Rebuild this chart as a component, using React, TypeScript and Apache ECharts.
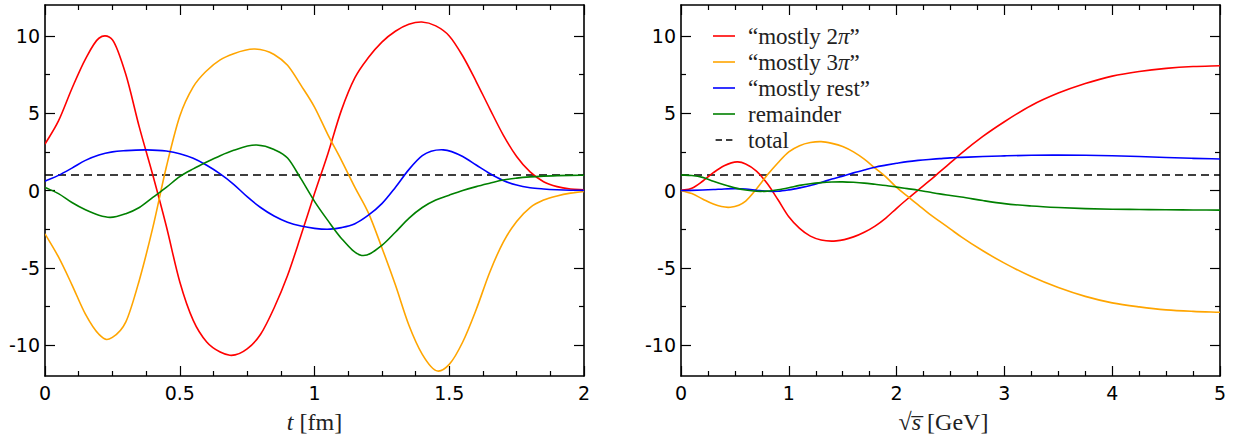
import React, { useEffect, useRef } from "react";
import * as echarts from "echarts";

// ---- Left panel: t [fm]
const leftMostly2piT = [
  0, 0.05, 0.1, 0.15, 0.2, 0.223, 0.25, 0.3, 0.35, 0.4, 0.45, 0.5, 0.55, 0.6, 0.65, 0.686, 0.75, 0.8, 0.85, 0.9, 0.95,
  1.0, 1.05, 1.1, 1.15, 1.2, 1.25, 1.3, 1.35, 1.398, 1.45, 1.5, 1.55, 1.6, 1.65, 1.7, 1.75, 1.8, 1.85, 1.9, 1.95, 2.0,
];
const leftMostly2pi = [
  3.0, 4.5, 6.6, 8.5, 9.85, 10.0, 9.75, 7.5, 4.1, 1.0, -2.3, -5.9, -8.4, -9.8, -10.45, -10.66, -10.25, -9.3, -7.6, -5.5, -2.9,
  -0.2, 2.4, 5.2, 7.3, 8.6, 9.6, 10.3, 10.75, 10.9, 10.65, 10.0, 8.7, 7.05, 5.3, 3.6, 2.2, 1.2, 0.57, 0.25, 0.1, 0.05,
];
const leftMostly3piT = [
  0, 0.05, 0.1, 0.15, 0.2, 0.229, 0.25, 0.3, 0.35, 0.4, 0.45, 0.5, 0.55, 0.6, 0.65, 0.7, 0.779, 0.85, 0.9, 0.95,
  1.0, 1.05, 1.1, 1.15, 1.2, 1.25, 1.3, 1.35, 1.4, 1.457, 1.5, 1.55, 1.6, 1.65, 1.7, 1.75, 1.8, 1.85, 1.9, 1.95, 2.0,
];
const leftMostly3pi = [
  -2.8, -4.3, -6.1, -8.0, -9.3, -9.64, -9.5, -8.5, -5.8, -2.4, 1.5, 4.8, 6.7, 7.75, 8.45, 8.85, 9.15, 8.8, 8.1, 6.8,
  5.4, 3.6, 1.95, 0.2, -1.45, -3.7, -6.1, -8.7, -10.6, -11.68, -11.25, -9.8, -7.7, -5.3, -3.35, -2.0, -1.1, -0.62, -0.35, -0.17, -0.06,
];
const leftMostlyRestT = [
  0, 0.05, 0.1, 0.15, 0.2, 0.25, 0.3, 0.377, 0.45, 0.5, 0.55, 0.6, 0.65, 0.7, 0.75, 0.8, 0.85, 0.9, 0.95,
  1.0, 1.058, 1.1, 1.15, 1.2, 1.25, 1.3, 1.35, 1.4, 1.478, 1.55, 1.6, 1.65, 1.7, 1.75, 1.8, 1.85, 1.9, 1.95, 2.0,
];
const leftMostlyRest = [
  0.6, 0.98, 1.45, 1.95, 2.3, 2.5, 2.58, 2.63, 2.55, 2.38, 2.08, 1.63, 1.07, 0.4, -0.4, -1.1, -1.65, -2.05, -2.3,
  -2.45, -2.5, -2.4, -2.15, -1.6, -0.85, 0.2, 1.35, 2.25, 2.63, 2.2, 1.65, 1.1, 0.65, 0.35, 0.18, 0.1, 0.05, 0.02, 0.01,
];
const leftRemainderT = [
  0, 0.05, 0.1, 0.15, 0.2, 0.241, 0.3, 0.35, 0.4, 0.45, 0.5, 0.55, 0.6, 0.65, 0.7, 0.785, 0.85, 0.9, 0.95,
  1.0, 1.05, 1.1, 1.175, 1.25, 1.3, 1.35, 1.4, 1.45, 1.5, 1.55, 1.6, 1.65, 1.7, 1.75, 1.8, 1.85, 1.9, 1.95, 2.0,
];
const leftRemainder = [
  0.2, -0.2, -0.78, -1.25, -1.6, -1.74, -1.5, -1.1, -0.45, 0.2, 0.9, 1.4, 1.84, 2.25, 2.6, 2.94, 2.65, 2.1, 0.75,
  -0.7, -1.95, -3.1, -4.2, -3.55, -2.7, -1.8, -1.1, -0.62, -0.3, 0.0, 0.25, 0.47, 0.68, 0.8, 0.88, 0.93, 0.96, 0.98, 0.99,
];
const leftTotalT = [0, 2];
const leftTotal = [1, 1];

// ---- Right panel: sqrt(s) [GeV]
const rightMostly2piS = [
  0, 0.1, 0.2, 0.3, 0.4, 0.526, 0.6, 0.7, 0.8, 0.9, 1.0, 1.1, 1.2, 1.3, 1.44, 1.6, 1.7, 1.8, 1.9, 2.0, 2.1, 2.2,
  2.3, 2.4, 2.5, 2.6, 2.8, 3.0, 3.25, 3.5, 3.75, 4.0, 4.25, 4.5, 4.75, 5.0,
];
const rightMostly2pi = [
  0, 0.15, 0.6, 1.15, 1.6, 1.85, 1.72, 1.25, 0.45, -0.6, -1.7, -2.45, -2.95, -3.2, -3.26, -3.0, -2.7, -2.3, -1.78, -1.15, -0.55, 0.03,
  0.6, 1.2, 1.8, 2.4, 3.5, 4.45, 5.5, 6.3, 6.92, 7.4, 7.7, 7.9, 8.02, 8.07,
];
const rightMostly3piS = [
  0, 0.1, 0.2, 0.3, 0.458, 0.6, 0.7, 0.8, 0.9, 1.0, 1.1, 1.2, 1.3, 1.4, 1.5, 1.6, 1.7, 1.8, 1.9, 2.0, 2.1, 2.2,
  2.3, 2.4, 2.5, 2.6, 2.8, 3.0, 3.25, 3.5, 3.75, 4.0, 4.25, 4.5, 4.75, 5.0,
];
const rightMostly3pi = [
  0, -0.2, -0.55, -0.88, -1.08, -0.68, 0.1, 1.0, 1.8, 2.5, 2.9, 3.1, 3.16, 3.05, 2.85, 2.5, 2.03, 1.45, 0.88, 0.2, -0.37, -0.93,
  -1.5, -2.0, -2.5, -3.0, -3.9, -4.7, -5.57, -6.28, -6.85, -7.27, -7.53, -7.72, -7.82, -7.88,
];
const rightS = [
  0, 0.1, 0.2, 0.3, 0.4, 0.5, 0.6, 0.7, 0.8, 0.9, 1.0, 1.1, 1.2, 1.3, 1.4, 1.5, 1.6, 1.7, 1.8, 1.9, 2.0, 2.1, 2.2,
  2.3, 2.4, 2.5, 2.6, 2.8, 3.0, 3.25, 3.5, 3.75, 4.0, 4.25, 4.5, 4.75, 5.0,
];
const rightMostlyRest = [
  0, 0.01, 0.03, 0.06, 0.1, 0.12, 0.1, 0.02, -0.05, -0.05, 0.04, 0.17, 0.32, 0.52, 0.74, 0.93, 1.14, 1.33, 1.51, 1.64,
  1.76, 1.87, 1.95, 2.01, 2.06, 2.11, 2.14, 2.2, 2.24, 2.28, 2.29, 2.28, 2.25, 2.2, 2.13, 2.08, 2.04,
];
const rightRemainder = [
  1.0, 0.97, 0.85, 0.6, 0.37, 0.17, 0.03, -0.05, -0.04, 0.05, 0.18, 0.33, 0.44, 0.51, 0.55, 0.56, 0.53, 0.48, 0.4, 0.32,
  0.22, 0.12, 0.02, -0.1, -0.22, -0.32, -0.42, -0.65, -0.85, -1.0, -1.1, -1.17, -1.21, -1.23, -1.25, -1.26, -1.27,
];
const rightTotalS = [0, 5];
const rightTotal = [1, 1];

// ---- Labels
const seriesNames = ["mostly 2pi", "mostly 3pi", "mostly rest", "remainder", "total"];
const legendLabels = [
  "{n|\u201Cmostly 2}{i|\u03C0}{n|\u201D}",
  "{n|\u201Cmostly 3}{i|\u03C0}{n|\u201D}",
  "{n|\u201Cmostly rest\u201D}",
  "{n|remainder}",
  "{n|total}",
];
const seriesColors = ["#ff0000", "#ffa500", "#0000ff", "#008000", "#000000"];
const yMajorTicks = [-10, -5, 0, 5, 10];
const yMinorTicks = [-7.5, -2.5, 2.5, 7.5];

const zip = (xs: number[], ys: number[]) => xs.map((x, i) => [x, ys[i]]);

const SANS = "DejaVu Sans";
const SERIF = "Liberation Serif";
const AXIS_COLOR = "#000";
const TEXT_COLOR = "#222";
const LINE_W = 1.6;

function makeX(gridIndex: number, max: number, interval: number, minorSplit: number, pos: "bottom" | "top", name: string, namePad: number[]) {
  const isBottom = pos === "bottom";
  return {
    type: "value",
    gridIndex,
    position: pos,
    min: 0,
    max,
    interval,
    axisLine: { show: true, onZero: false, lineStyle: { color: AXIS_COLOR, width: 1.6 } },
    axisTick: { show: true, inside: true, length: 10, lineStyle: { color: AXIS_COLOR, width: 1.2 } },
    minorTick: { show: true, splitNumber: minorSplit, length: 5, lineStyle: { color: AXIS_COLOR, width: 1.2 } },
    splitLine: { show: false },
    minorSplitLine: { show: false },
    axisLabel: { show: isBottom, margin: 7, fontFamily: SANS, fontSize: 19, color: "#000" },
    name: isBottom ? name : "",
    nameLocation: "middle",
    nameGap: 34,
    nameTextStyle: {
      fontFamily: SERIF,
      fontSize: 24,
      color: TEXT_COLOR,
      padding: namePad,
      rich: { i: { fontFamily: SERIF, fontStyle: "italic", fontSize: 24, color: TEXT_COLOR } },
    },
  };
}

function makeY(gridIndex: number, pos: "left" | "right", major: boolean) {
  const showLabel = pos === "left" && major;
  return {
    type: "value",
    gridIndex,
    position: pos,
    min: -12,
    max: 12,
    axisLine: { show: major, onZero: false, lineStyle: { color: AXIS_COLOR, width: 1.6 } },
    axisTick: {
      show: true,
      inside: true,
      length: major ? 10 : 5,
      customValues: major ? yMajorTicks : yMinorTicks,
      lineStyle: { color: AXIS_COLOR, width: 1.2 },
    },
    axisLabel: { show: showLabel, customValues: yMajorTicks, margin: 5, fontFamily: SANS, fontSize: 19, color: "#000" },
    splitLine: { show: false },
  };
}

// Smooth curve through the read points: cubic Hermite with 3-point slopes,
// every control point mapped through the axes with api.coord.
function makeCurveSeries(name: string, xs: number[], ys: number[], color: string, xAxisIndex: number, yAxisIndex: number) {
  return {
    type: "custom",
    name,
    coordinateSystem: "cartesian2d",
    xAxisIndex,
    yAxisIndex,
    data: zip(xs, ys),
    encode: { x: 0, y: 1 },
    itemStyle: { color },
    clip: true,
    silent: true,
    z: 2,
    renderItem: (params: any, api: any) => {
      if (params.dataIndex !== 0) return null;
      const n = xs.length;
      const h: number[] = [];
      const d: number[] = [];
      for (let i = 0; i < n - 1; i++) {
        h.push(xs[i + 1] - xs[i]);
        d.push((ys[i + 1] - ys[i]) / (xs[i + 1] - xs[i]));
      }
      const m: number[] = [];
      for (let i = 0; i < n; i++) {
        if (i === 0) m.push(d[0]);
        else if (i === n - 1) m.push(d[n - 2]);
        else m.push((d[i - 1] * h[i] + d[i] * h[i - 1]) / (h[i - 1] + h[i]));
      }
      const p0 = api.coord([xs[0], ys[0]]);
      let path = `M${p0[0]} ${p0[1]}`;
      for (let i = 0; i < n - 1; i++) {
        const c1 = api.coord([xs[i] + h[i] / 3, ys[i] + (m[i] * h[i]) / 3]);
        const c2 = api.coord([xs[i + 1] - h[i] / 3, ys[i + 1] - (m[i + 1] * h[i]) / 3]);
        const p = api.coord([xs[i + 1], ys[i + 1]]);
        path += ` C${c1[0]} ${c1[1]} ${c2[0]} ${c2[1]} ${p[0]} ${p[1]}`;
      }
      return {
        type: "path",
        shape: { pathData: path },
        style: { stroke: color, fill: "none", lineWidth: LINE_W, lineJoin: "round" },
        silent: true,
      };
    },
  };
}

function makeTotalSeries(name: string, xs: number[], ys: number[], xAxisIndex: number, yAxisIndex: number) {
  return {
    type: "line",
    name,
    xAxisIndex,
    yAxisIndex,
    data: zip(xs, ys),
    showSymbol: false,
    symbol: "none",
    lineStyle: { color: "#000", width: LINE_W, type: [8, 5] },
    itemStyle: { color: "#000" },
    z: 1,
  };
}

export default function App() {
  const ref = useRef<HTMLDivElement>(null);
  useEffect(() => {
    document.body.style.margin = "0";
    document.body.style.overflow = "hidden";
    if (!ref.current) return;
    const chart = echarts.init(ref.current, undefined, { renderer: "svg", width: 1240, height: 439 });
    const leftXs = [leftMostly2piT, leftMostly3piT, leftMostlyRestT, leftRemainderT];
    const leftYs = [leftMostly2pi, leftMostly3pi, leftMostlyRest, leftRemainder];
    const rightXs = [rightMostly2piS, rightMostly3piS, rightS, rightS];
    const rightYs = [rightMostly2pi, rightMostly3pi, rightMostlyRest, rightRemainder];
    const series: any[] = [];
    for (let i = 0; i < 4; i++) series.push(makeCurveSeries(seriesNames[i], leftXs[i], leftYs[i], seriesColors[i], 0, 0));
    series.push(makeTotalSeries(seriesNames[4], leftTotalT, leftTotal, 0, 0));
    for (let i = 0; i < 4; i++) series.push(makeCurveSeries(seriesNames[i], rightXs[i], rightYs[i], seriesColors[i], 2, 4));
    series.push(makeTotalSeries(seriesNames[4], rightTotalS, rightTotal, 2, 4));

    const legendData = seriesNames.map((name, i) => ({
      name,
      icon: i < 4 ? "rect" : "path://M0,0 h8 v2 h-8 z M13,0 h8 v2 h-8 z",
      itemStyle: { color: seriesColors[i] },
    }));

    chart.setOption({
      animation: false,
      backgroundColor: "#ffffff",
      grid: [
        { left: 45, top: 5, width: 539, height: 377, containLabel: false },
        { left: 681, top: 5, width: 539, height: 377, containLabel: false },
      ],
      xAxis: [
        makeX(0, 2, 0.5, 4, "bottom", "{i|t} [fm]", [0, 0, 0, 0]),
        makeX(0, 2, 0.5, 4, "top", "", [0, 0, 0, 0]),
        makeX(1, 5, 1, 4, "bottom", "\u221A{i|s\u0305} [GeV]", [0, 14, 0, 0]),
        makeX(1, 5, 1, 4, "top", "", [0, 0, 0, 0]),
      ],
      yAxis: [
        makeY(0, "left", true),
        makeY(0, "left", false),
        makeY(0, "right", true),
        makeY(0, "right", false),
        makeY(1, "left", true),
        makeY(1, "left", false),
        makeY(1, "right", true),
        makeY(1, "right", false),
      ],
      legend: {
        show: true,
        orient: "vertical",
        left: 708,
        top: 19,
        padding: 5,
        itemWidth: 22,
        itemHeight: 1.6,
        itemGap: 2,
        data: legendData,
        formatter: (name: string) => legendLabels[seriesNames.indexOf(name)],
        textStyle: {
          fontFamily: SERIF,
          fontSize: 23,
          color: TEXT_COLOR,
          lineHeight: 24,
          padding: [0, 0, 0, 8],
          rich: {
            n: { fontFamily: SERIF, fontSize: 23, color: TEXT_COLOR, lineHeight: 24, height: 22 },
            i: { fontFamily: SERIF, fontStyle: "italic", fontSize: 23, color: TEXT_COLOR, lineHeight: 24, height: 22 },
          },
        },
      },
      series,
    });
    return () => chart.dispose();
  }, []);
  return (
    <div
      ref={ref}
      style={{ position: "absolute", left: 0, top: 0, width: 1240, height: 439, overflow: "hidden", background: "#fff" }}
    />
  );
}
